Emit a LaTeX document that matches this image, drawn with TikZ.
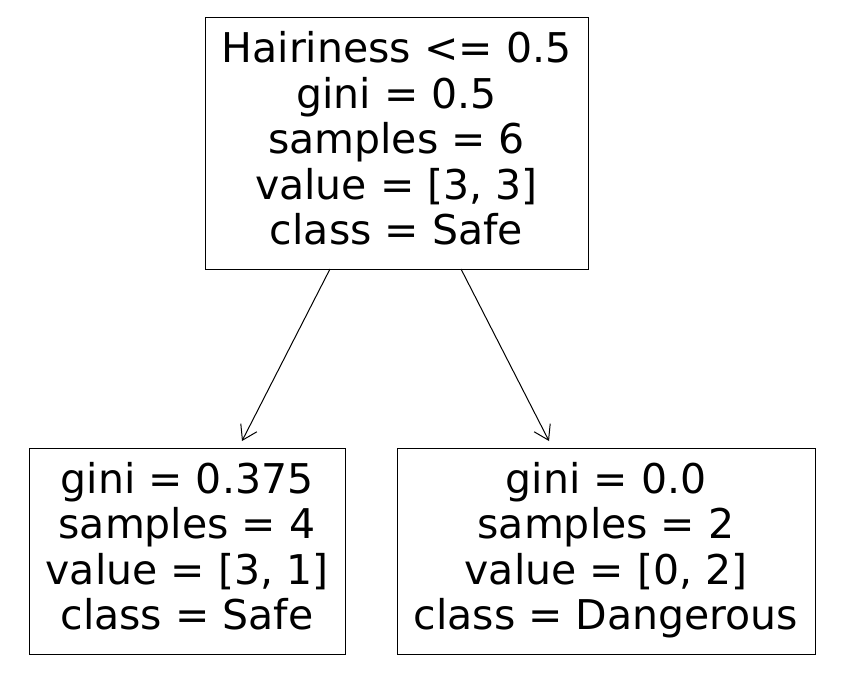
\documentclass[tikz,border=0pt]{standalone}
\usepackage{fontspec}
\setmainfont{DejaVu Sans}
\usetikzlibrary{arrows.meta}
\begin{document}
\begin{tikzpicture}[x=1pt,y=-1pt,
  treenode/.style={draw=black, line width=1pt, fill=white, inner sep=0pt, outer sep=0pt,
    align=center, text depth=9.7pt, font=\fontsize{41}{45.5}\selectfont},
  arr/.style={line width=1pt, -{Straight Barb[length=14pt,width=18pt,line width=1pt]}}]
\useasboundingbox[fill=white] (0,0) rectangle (855,683);
\node[treenode, minimum width=383pt, minimum height=252pt] (root) at (396.5,143)
  {Hairiness <= 0.5\\gini = 0.5\\samples = 6\\value = [3, 3]\\class = Safe};
\node[treenode, minimum width=316pt, minimum height=206pt] (left) at (187,551)
  {gini = 0.375\\samples = 4\\value = [3, 1]\\class = Safe};
\node[treenode, minimum width=418pt, minimum height=206pt] (right) at (606,551)
  {gini = 0.0\\samples = 2\\value = [0, 2]\\class = Dangerous};
\draw[arr] ([xshift=-66.5pt]root.south) -- ([xshift=55pt,yshift=7pt]left.north);
\draw[arr] ([xshift=64.5pt]root.south) -- ([xshift=-57pt,yshift=7pt]right.north);
\end{tikzpicture}
\end{document}
